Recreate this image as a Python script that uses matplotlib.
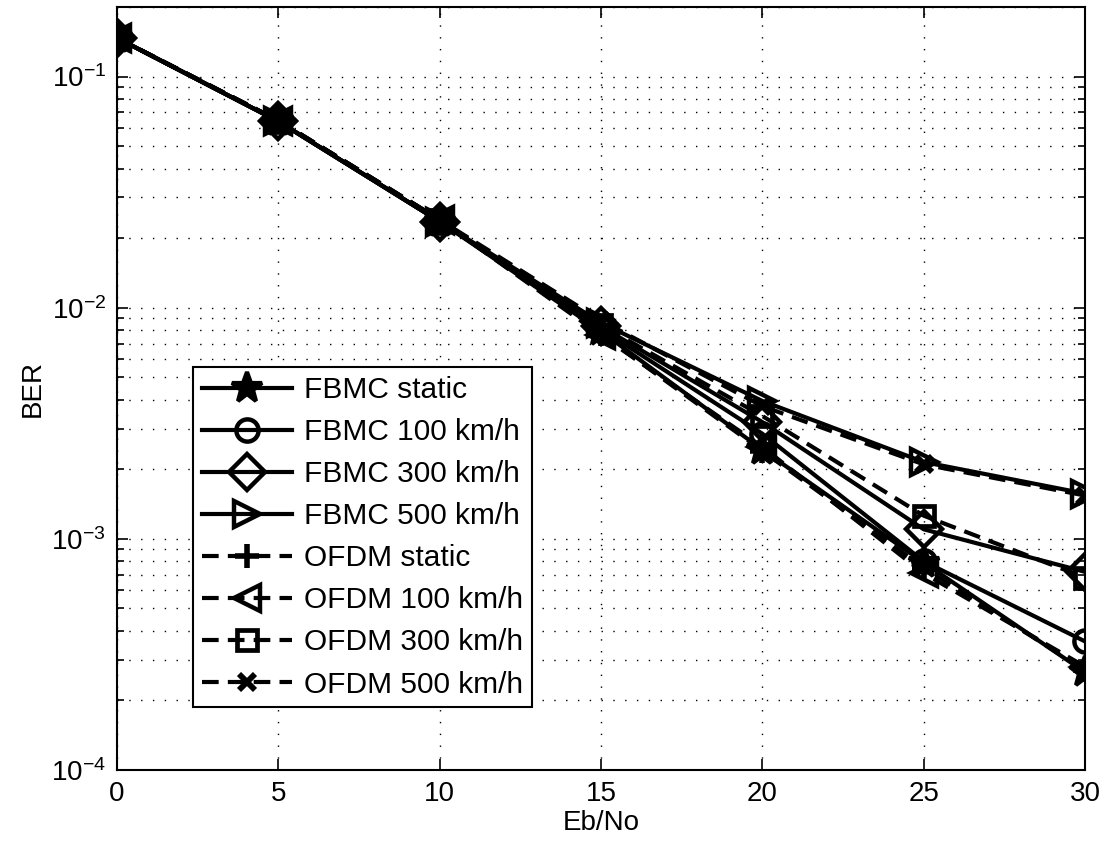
import numpy as np
import matplotlib
matplotlib.use('Agg')
import matplotlib.pyplot as plt
from matplotlib.ticker import LogLocator, NullFormatter

# Eb/No points and BER
ebno = [0, 5, 10, 15, 20, 25, 30]

fbmc_static = [0.147, 0.0640, 0.0236, 0.0079, 0.00243, 0.00079, 0.000265]
fbmc_100 = [0.147, 0.0640, 0.0236, 0.0081, 0.00285, 0.00080, 0.00036]
fbmc_300 = [0.147, 0.0640, 0.0236, 0.0083, 0.00320, 0.00110, 0.00072]
fbmc_500 = [0.147, 0.0640, 0.0236, 0.0086, 0.00395, 0.00215, 0.00157]
ofdm_static = [0.147, 0.0645, 0.0240, 0.0077, 0.00240, 0.00075, 0.00027]
ofdm_100 = [0.147, 0.0645, 0.0240, 0.0076, 0.00250, 0.00071, 0.00028]
ofdm_300 = [0.147, 0.0645, 0.0240, 0.0084, 0.00340, 0.00126, 0.00068]
ofdm_500 = [0.147, 0.0645, 0.0240, 0.0088, 0.00375, 0.00210, 0.00154]

labels = ['FBMC static', 'FBMC 100 km/h', 'FBMC 300 km/h', 'FBMC 500 km/h',
          'OFDM static', 'OFDM 100 km/h', 'OFDM 300 km/h', 'OFDM 500 km/h']

plt.rcParams['font.family'] = ['Liberation Sans', 'DejaVu Sans']
plt.rcParams['font.size'] = 20

fig = plt.figure(figsize=(11.07, 8.52), dpi=100)
ax = fig.add_axes([0.1057, 0.0962, 0.8745, 0.8956])

lw = 3
dash = (4, 2.2)
styles = [
    (fbmc_static, '*', 23, 'k', '-', 3),
    (fbmc_100, 'o', 16, 'none', '-', 3.2),
    (fbmc_300, 'D', 18, 'none', '-', 3.2),
    (fbmc_500, '>', 19, 'none', '-', 3.2),
    (ofdm_static, '+', 17, 'none', '--', 4),
    (ofdm_100, '<', 19, 'none', '--', 3.2),
    (ofdm_300, 's', 15, 'none', '--', 3.4),
    (ofdm_500, 'x', 11, 'none', '--', 4.2),
]
for (ys, m, ms, fc, ls, mew), lab in zip(styles, labels):
    line, = ax.semilogy(ebno, ys, color='k', lw=lw, ls=ls, marker=m, ms=ms,
                        mfc=fc, mec='k', mew=mew, label=lab)
    if ls == '--':
        line.set_dashes(dash)

ax.set_xlim(0, 30)
ax.set_ylim(1e-4, 0.2)
ax.set_xticks([0, 5, 10, 15, 20, 25, 30])
ax.yaxis.set_major_locator(LogLocator(base=10, numticks=10))
ax.yaxis.set_minor_locator(LogLocator(base=10, subs=np.arange(2, 10), numticks=20))
ax.yaxis.set_minor_formatter(NullFormatter())

ax.grid(True, which='major', color='k', lw=1, ls=(0, (1, 7.5)))
ax.grid(True, which='minor', axis='y', color='k', lw=1, ls=(0, (1, 7.5)))
ax.tick_params(which='both', direction='in', top=True, right=True, width=1.2)
ax.tick_params(which='major', length=8, pad=8)
ax.tick_params(which='minor', length=5)
for s in ax.spines.values():
    s.set_linewidth(1.5)

ax.set_xlabel('Eb/No', labelpad=2)
ax.set_ylabel('BER', labelpad=4)

leg = ax.legend(loc='lower left', bbox_to_anchor=(0.079, 0.082), fancybox=False,
                edgecolor='k', framealpha=1, fontsize=21.5, handlelength=3.0,
                handletextpad=0.4, labelspacing=0.47, borderpad=0.3,
                borderaxespad=0)
leg.get_frame().set_linewidth(1.5)

fig.savefig('out.png', dpi=100)
